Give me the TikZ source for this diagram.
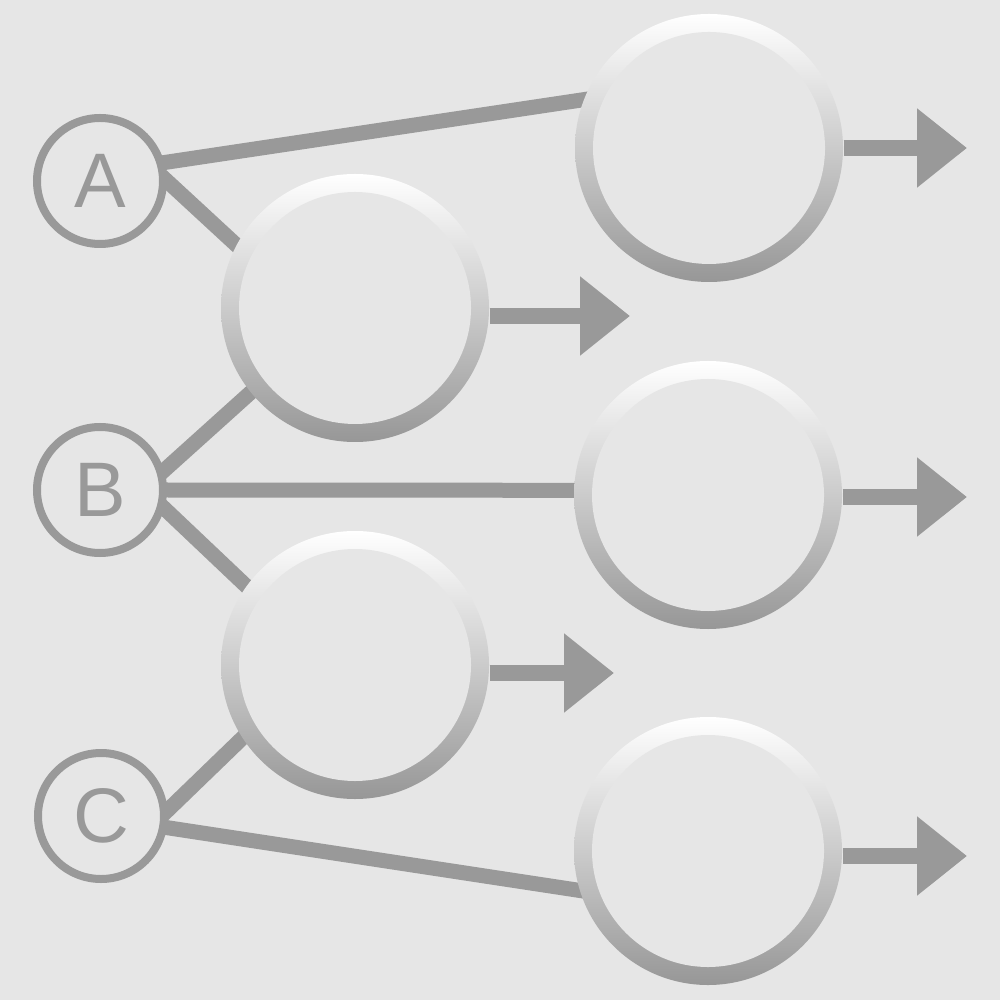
\documentclass[tikz,border=0pt]{standalone}
\usepackage{fontspec}
\setmainfont{Liberation Sans}
\definecolor{bggray}{HTML}{E6E6E6}
\definecolor{linegray}{HTML}{999999}
\definecolor{ringgray}{HTML}{979797}
\usepackage{tikz}
\usetikzlibrary{arrows.meta, backgrounds, calc}

\tikzset{
  letter/.style = {circle, draw = linegray, line width = 0.08cm, fill = bggray, minimum size = 1.26cm, inner sep = 0pt, text = linegray, font = \fontsize{22}{26}\selectfont},
  bubble/.style = {circle, minimum size = 2.68cm, inner sep = 0pt, top color = white, bottom color = ringgray, path picture = {\fill[bggray] (path picture bounding box.center) circle (1.16cm);}},
  link/.style = {draw = linegray, line width = 0.15cm, shorten < = -0.1cm, shorten > = -0.1cm},
  flow/.style = {draw = linegray, line width = 0.165cm, -{Triangle[length=0.5cm, width=0.76cm]}}
}

\begin{document}
\begin{tikzpicture}
\useasboundingbox (0,0) rectangle (10,-10);
% start points
\node[letter] (A) at (1.00,-1.81) {A};
\node[letter] (B) at (1.00,-4.90) {B};
\node[letter] (C) at (1.01,-8.16) {C};
% empty bubbles
\node[bubble] (L1) at (3.55,-3.08) {};
\node[bubble] (L2) at (3.55,-6.65) {};
\node[bubble] (R1) at (7.09,-1.48) {};
\node[bubble] (R2) at (7.08,-4.95) {};
\node[bubble] (R3) at (7.08,-8.51) {};
% outgoing arrows
\coordinate (tipL1) at (6.30,-3.16);
\coordinate (tipL2) at (6.14,-6.73);
\coordinate (tipR1) at (9.67,-1.48);
\coordinate (tipR2) at (9.67,-4.97);
\coordinate (tipR3) at (9.67,-8.56);
\draw[flow] (L1.east |- tipL1) -- (tipL1);
\draw[flow] (L2.east |- tipL2) -- (tipL2);
\draw[flow] (R1.east |- tipR1) -- (tipR1);
\draw[flow] (R2.east |- tipR2) -- (tipR2);
\draw[flow] (R3.east |- tipR3) -- (tipR3);
\begin{pgfonlayer}{background}
\fill[bggray] (0,0) rectangle (10,-10);
\draw[link] (A.16) -- (R1.159);
\draw[link] (A.0) -- (L1.152);
\draw[link] (B.17) -- (L1.219);
\draw[link] (B.0) -- (R2.178);
\draw[link] (B.-16) -- (L2.144);
\draw[link] (C.5) -- (L2.213);
\draw[link] (C.-10) -- (R3.197);
\end{pgfonlayer}
\end{tikzpicture}
\end{document}
